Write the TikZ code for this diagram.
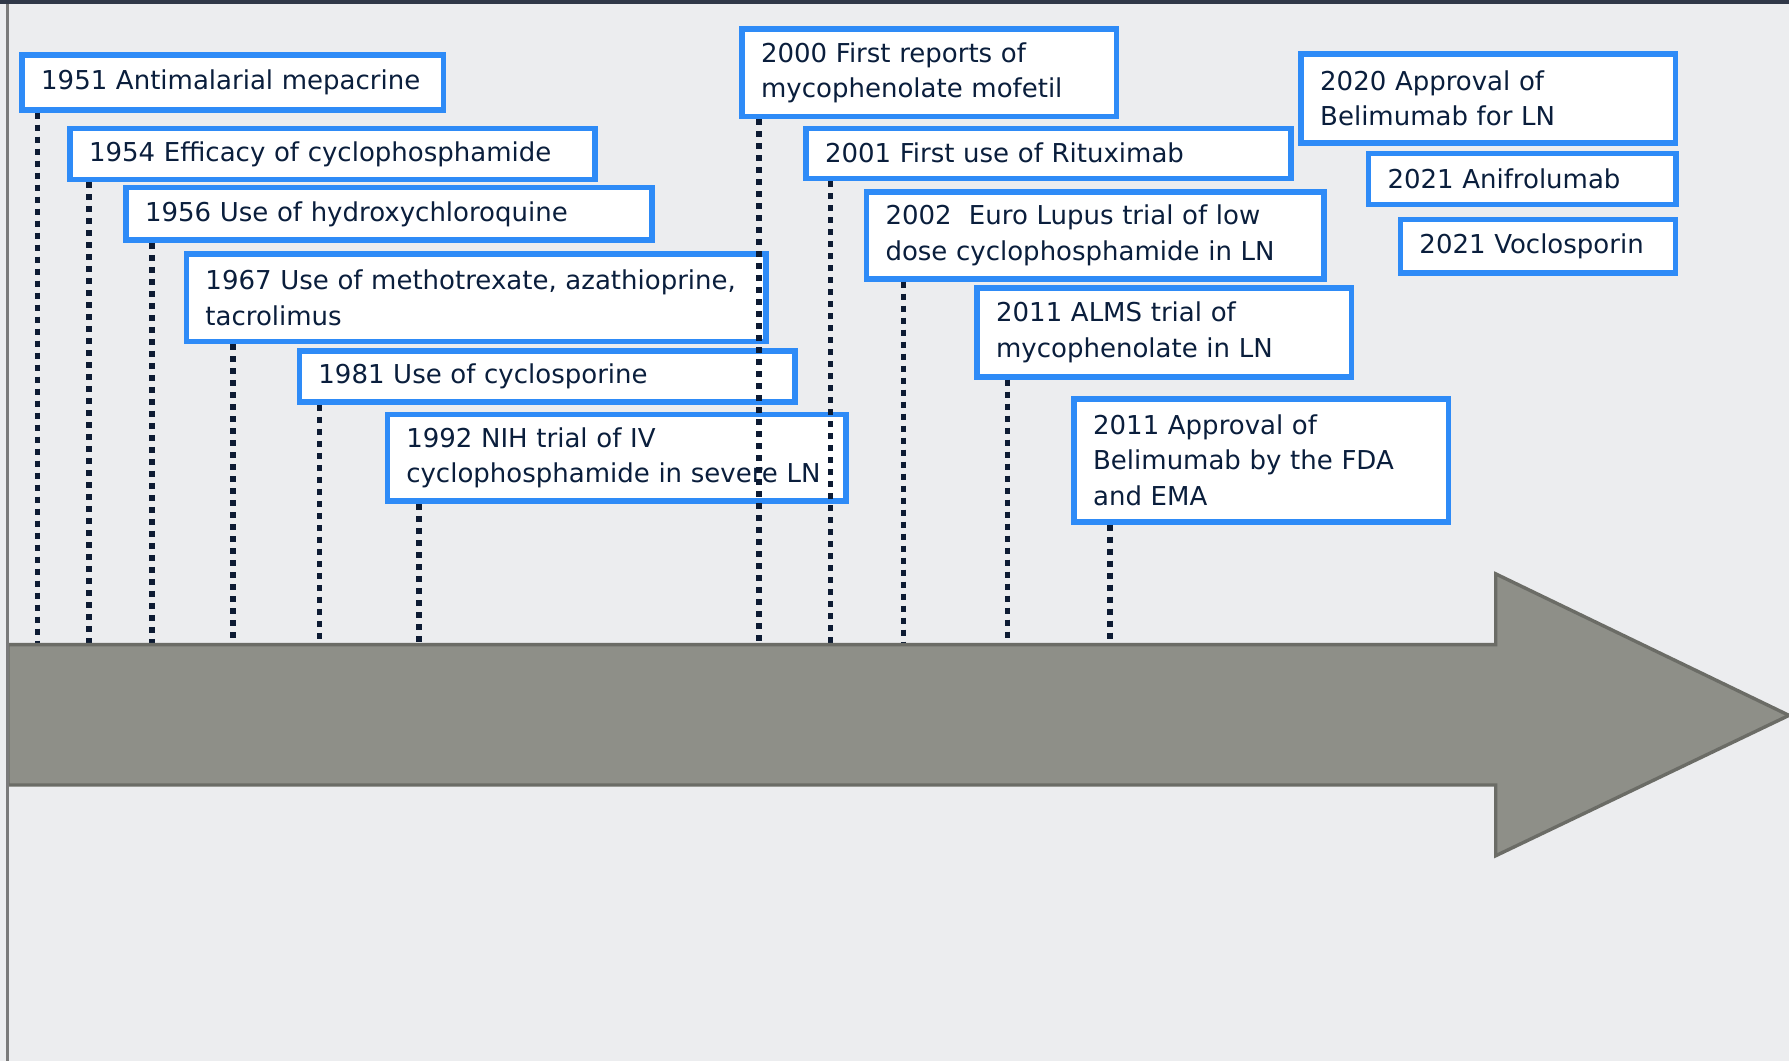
\documentclass[tikz,border=0pt]{standalone}
\usepackage{fontspec}
\setmainfont{DejaVu Sans}
\usepackage{tikz}
\definecolor{evblue}{HTML}{2E8BF7}
\definecolor{evtext}{HTML}{0A1E3C}
\definecolor{ticknavy}{HTML}{0D1B33}
\definecolor{shaftgray}{HTML}{8E8F88}
\definecolor{shaftedge}{HTML}{6B6C66}
\definecolor{paper}{HTML}{ECEDEF}
\definecolor{framenavy}{HTML}{303848}
\definecolor{framegray}{HTML}{7A7A7A}

\begin{document}
\begin{tikzpicture}[x=0.5705pt,y=-0.5705pt,
  evbox/.style={draw=evblue,line width=2.8pt,fill=white,anchor=north west,
    inner xsep=9.5pt,inner ysep=0pt,align=left,text=evtext,
    font=\fontsize{13pt}{17.7pt}\selectfont},
  evtick/.style={draw=ticknavy,line width=2.8pt,dash pattern=on 3pt off 3pt}]
\useasboundingbox (0,0) rectangle (1568,930);
\fill[paper] (0,0) rectangle (1568,930);

\node[evbox,text width=191.6pt,minimum height=27.3pt] (b1951) at (17,46) {1951 Antimalarial mepacrine};
\node[evbox,text width=243.5pt,minimum height=25.6pt] (b1954) at (59,110) {1954 Efficacy of cyclophosphamide};
\node[evbox,text width=244.1pt,minimum height=26.2pt] (b1956) at (108,162) {1956 Use of hydroxychloroquine};
\node[evbox,text width=270.9pt,minimum height=43.8pt] (b1967) at (161,220) {1967 Use of methotrexate, azathioprine,\\tacrolimus};
\node[evbox,text width=228.7pt,minimum height=25.6pt] (b1981) at (260,305) {1981 Use of cyclosporine};
\node[evbox,text width=210.5pt,minimum height=43.3pt] (b1992) at (337,361) {1992 NIH trial of IV\\cyclophosphamide in severe LN};
\node[evbox,text width=168.2pt,minimum height=43.8pt] (b2000) at (648,23) {2000 First reports of\\mycophenolate mofetil};
\node[evbox,text width=223.6pt,minimum height=25pt] (b2001) at (704,110) {2001 First use of Rituximab};
\node[evbox,text width=209.9pt,minimum height=43.3pt] (b2002) at (757,166) {2002\ \ Euro Lupus trial of low\\dose cyclophosphamide in LN};
\node[evbox,text width=168.2pt,minimum height=44.4pt] (b2011a) at (854,250) {2011 ALMS trial of\\mycophenolate in LN};
\node[evbox,text width=168.2pt,minimum height=61.5pt] (b2011b) at (939,347) {2011 Approval of\\Belimumab by the FDA\\and EMA};
\node[evbox,text width=168.2pt,minimum height=44.4pt] (b2020) at (1138,45) {2020 Approval of\\Belimumab for LN};
\node[evbox,text width=134.6pt,minimum height=25.6pt] (b2021a) at (1197,132) {2021 Anifrolumab};
\node[evbox,text width=118.6pt,minimum height=26.7pt] (b2021b) at (1225,190) {2021 Voclosporin};

\coordinate (t1951) at (33,565);
\coordinate (t1954) at (78,565);
\coordinate (t1956) at (133,565);
\coordinate (t1967) at (204,565);
\coordinate (t1981) at (280,565);
\coordinate (t1992) at (367,565);
\coordinate (t2000) at (665,565);
\coordinate (t2001) at (728,565);
\coordinate (t2002) at (792,565);
\coordinate (t2011a) at (883,565);
\coordinate (t2011b) at (973,565);
\draw[evtick] (b1951.south -| t1951) -- (t1951);
\draw[evtick] (b1954.south -| t1954) -- (t1954);
\draw[evtick] (b1956.south -| t1956) -- (t1956);
\draw[evtick] (b1967.south -| t1967) -- (t1967);
\draw[evtick] (b1981.south -| t1981) -- (t1981);
\draw[evtick] (b1992.south -| t1992) -- (t1992);
\draw[evtick] (b2000.south -| t2000) -- (t2000);
\draw[evtick] (b2001.south -| t2001) -- (t2001);
\draw[evtick] (b2002.south -| t2002) -- (t2002);
\draw[evtick] (b2011a.south -| t2011a) -- (t2011a);
\draw[evtick] (b2011b.south -| t2011b) -- (t2011b);

\draw[fill=shaftgray,draw=shaftedge,line width=1.7pt,line join=miter]
  (7,565) -- (1311,565) -- (1311,503) -- (1568,627) -- (1311,750) -- (1311,688) -- (7,688) -- cycle;

\draw[framegray,line width=1.5pt] (7,0) -- (7,930);
\draw[framenavy,line width=2pt] (0,1.5) -- (1568,1.5);
\end{tikzpicture}
\end{document}
